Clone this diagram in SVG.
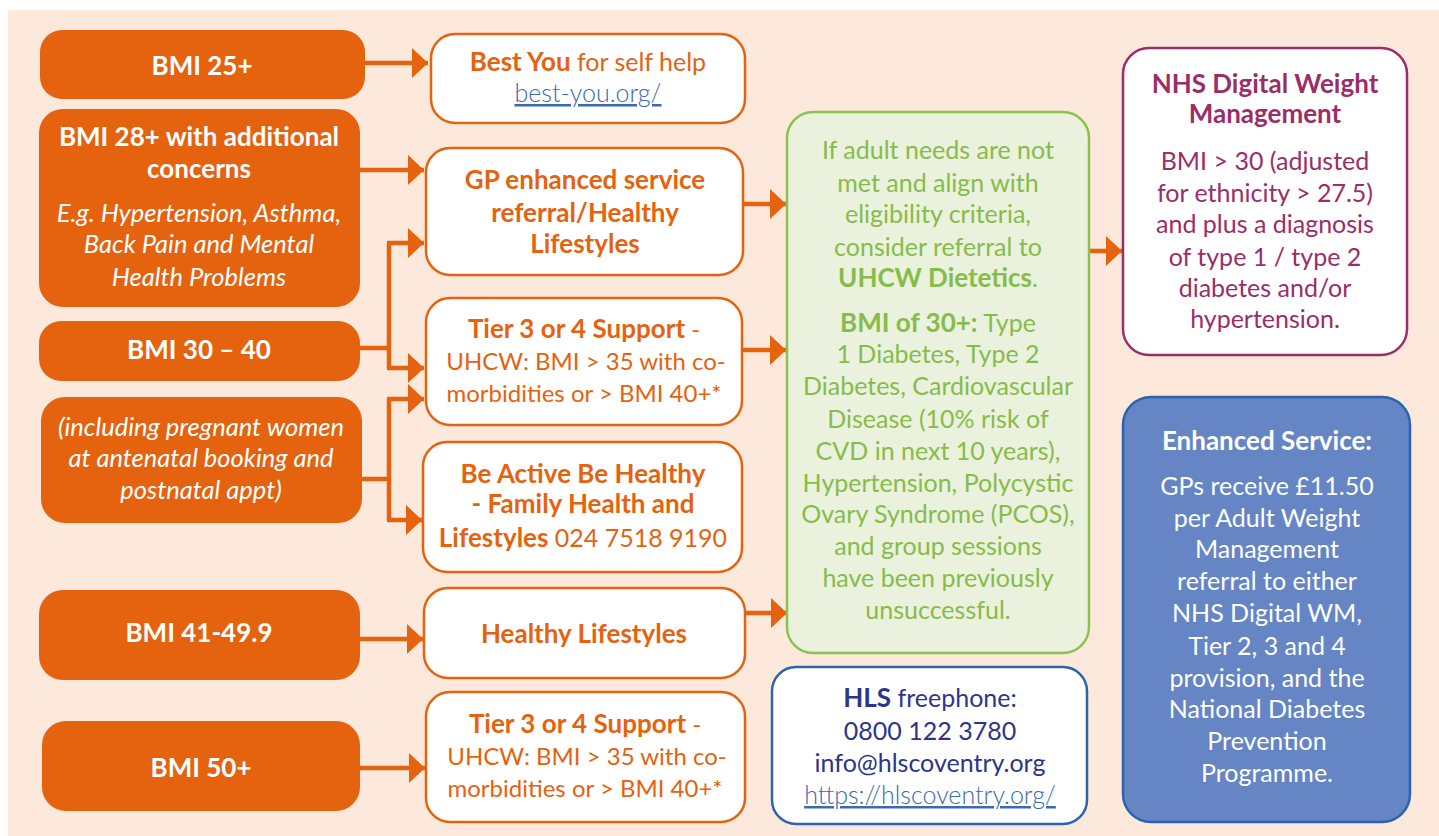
<svg xmlns="http://www.w3.org/2000/svg" width="1439" height="836" viewBox="0 0 1439 836">
<defs>
<style>
text{font-family:Lato,"Open Sans","Liberation Sans",sans-serif;text-anchor:middle;font-size:25px}
.src{fill:#E5620F}
.lbl{fill:#fff;font-weight:bold;font-size:26px}
.it{fill:#fff;font-style:italic;font-size:25.5px}
.svc{fill:#fff;stroke:#E5620F;stroke-width:2.5}
.ot{fill:#E5620F}
.sm{font-size:24px}
.b{font-weight:bold;font-size:26px}
.link{fill:#3A6AAF;text-decoration:underline;font-weight:300}
.gt{fill:#86BC4A}
.nt{fill:#9B2D68}
.ht{fill:#2C3589}
.wt{fill:#fff}
.conn{fill:none;stroke:#E5620F;stroke-width:4.5}
</style>
<marker id="ah" markerUnits="userSpaceOnUse" markerWidth="17" markerHeight="30" refX="16" refY="15" orient="auto"><path d="M0,0 L16,15 L0,30 z" fill="#E5620F"/></marker>
</defs>
<rect x="0" y="0" width="1439" height="836" fill="#fff"/>
<rect x="8" y="10" width="1431" height="826" fill="#FDE9DB"/>

<g id="connectors">
<path class="conn" d="M365,63 H428" marker-end="url(#ah)"/>
<path class="conn" d="M360,170 H424" marker-end="url(#ah)"/>
<path class="conn" d="M360,348 H389"/>
<path class="conn" d="M389,243 V368"/>
<path class="conn" d="M387,243 H424" marker-end="url(#ah)"/>
<path class="conn" d="M387,368 H424" marker-end="url(#ah)"/>
<path class="conn" d="M362,479 H389"/>
<path class="conn" d="M389,399 V520"/>
<path class="conn" d="M387,399 H424" marker-end="url(#ah)"/>
<path class="conn" d="M387,520 H422" marker-end="url(#ah)"/>
<path class="conn" d="M360,639 H423" marker-end="url(#ah)"/>
<path class="conn" d="M360,768 H425" marker-end="url(#ah)"/>
<path class="conn" d="M743,204 H786" marker-end="url(#ah)"/>
<path class="conn" d="M742,350 H786" marker-end="url(#ah)"/>
<path class="conn" d="M745,613 H787" marker-end="url(#ah)"/>
<path class="conn" d="M1089,251 H1122" marker-end="url(#ah)"/>
</g>

<g id="bmi25"><rect class="src" x="40" y="30" width="325" height="69" rx="22"/><text class="lbl" x="202" y="75">BMI 25+</text></g>
<g id="bmi28"><rect class="src" x="39" y="109" width="321" height="198" rx="24"/>
<text class="lbl" x="199" y="146">BMI 28+ with additional</text>
<text class="lbl" x="199" y="178">concerns</text>
<text class="it" x="199" y="222">E.g. Hypertension, Asthma,</text>
<text class="it" x="199" y="253">Back Pain and Mental</text>
<text class="it" x="199" y="286">Health Problems</text></g>
<g id="bmi30"><rect class="src" x="39" y="321" width="321" height="60" rx="22"/><text class="lbl" x="199" y="359">BMI 30 – 40</text></g>
<g id="pregnant"><rect class="src" x="41" y="397" width="321" height="126" rx="24"/>
<text class="it" x="201" y="436">(including pregnant women</text>
<text class="it" x="201" y="467">at antenatal booking and</text>
<text class="it" x="201" y="499">postnatal appt)</text></g>
<g id="bmi41"><rect class="src" x="39" y="590" width="321" height="90" rx="24"/><text class="lbl" x="199" y="642">BMI 41-49.9</text></g>
<g id="bmi50"><rect class="src" x="42" y="721" width="318" height="90" rx="24"/><text class="lbl" x="201" y="777">BMI 50+</text></g>

<g id="bestyou"><rect class="svc" x="431" y="34" width="314" height="89" rx="24"/>
<text class="ot" x="588" y="71"><tspan class="b">Best You</tspan> for self help</text>
<text class="link" x="588" y="102">best-you.org/</text></g>
<g id="gp"><rect class="svc" x="426" y="148" width="317" height="127" rx="24"/>
<text class="ot b" x="585" y="189">GP enhanced service</text>
<text class="ot b" x="585" y="222">referral/Healthy</text>
<text class="ot b" x="585" y="253">Lifestyles</text></g>
<g id="tier1"><rect class="svc" x="426" y="298" width="316" height="127" rx="24"/>
<text class="ot sm" x="584" y="338"><tspan class="b">Tier 3 or 4 Support</tspan> -</text>
<text class="ot sm" x="586" y="370">UHCW: BMI &gt; 35 with co-</text>
<text class="ot sm" x="584" y="402">morbidities or &gt; BMI 40+*</text></g>
<g id="beactive"><rect class="svc" x="423" y="442" width="319" height="130" rx="24"/>
<text class="ot b" x="583" y="483">Be Active Be Healthy</text>
<text class="ot b" x="583" y="513">- Family Health and</text>
<text class="ot" x="583" y="547"><tspan class="b">Lifestyles</tspan> 024 7518 9190</text></g>
<g id="healthy"><rect class="svc" x="424" y="588" width="321" height="90" rx="24"/>
<text class="ot b" x="584" y="643">Healthy Lifestyles</text></g>
<g id="tier2"><rect class="svc" x="426" y="692" width="319" height="130" rx="24"/>
<text class="ot sm" x="585" y="733"><tspan class="b">Tier 3 or 4 Support</tspan> -</text>
<text class="ot sm" x="587" y="765">UHCW: BMI &gt; 35 with co-</text>
<text class="ot sm" x="585" y="797">morbidities or &gt; BMI 40+*</text></g>

<g id="dietetics"><rect x="787" y="112" width="302" height="541" rx="26" fill="#EAF1DD" stroke="#8CC152" stroke-width="2.5"/>
<g class="gt">
<text x="938" y="159">If adult needs are not</text>
<text x="938" y="192">met and align with</text>
<text x="938" y="223">eligibility criteria,</text>
<text x="938" y="256">consider referral to</text>
<text x="938" y="287"><tspan class="b">UHCW Dietetics</tspan>.</text>
<text x="938" y="332"><tspan class="b">BMI of 30+:</tspan> Type</text>
<text x="938" y="363">1 Diabetes, Type 2</text>
<text x="938" y="395">Diabetes, Cardiovascular</text>
<text x="938" y="428">Disease (10% risk of</text>
<text x="938" y="460">CVD in next 10 years),</text>
<text x="938" y="492">Hypertension, Polycystic</text>
<text x="938" y="523">Ovary Syndrome (PCOS),</text>
<text x="938" y="555">and group sessions</text>
<text x="938" y="587">have been previously</text>
<text x="938" y="619">unsuccessful.</text>
</g></g>

<g id="hls"><rect x="772" y="667" width="315" height="157" rx="24" fill="#fff" stroke="#2C63AE" stroke-width="2.5"/>
<text class="ht" x="930" y="707"><tspan class="b">HLS</tspan> freephone:</text>
<text class="ht" x="930" y="740">0800 122 3780</text>
<text class="ht" x="930" y="772">info@hlscoventry.org</text>
<text class="link" x="930" y="804">https://hlscoventry.org/</text></g>

<g id="nhs"><rect x="1123" y="48" width="284" height="307" rx="26" fill="#fff" stroke="#9B2D68" stroke-width="2.5"/>
<g class="nt">
<text class="b" x="1265" y="93">NHS Digital Weight</text>
<text class="b" x="1265" y="123">Management</text>
<text x="1265" y="170">BMI &gt; 30 (adjusted</text>
<text x="1265" y="202">for ethnicity &gt; 27.5)</text>
<text x="1265" y="233">and plus a diagnosis</text>
<text x="1265" y="266">of type 1 / type 2</text>
<text x="1265" y="297">diabetes and/or</text>
<text x="1265" y="328">hypertension.</text>
</g></g>

<g id="enhanced"><rect x="1123" y="397" width="287" height="425" rx="28" fill="#6585C5" stroke="#2C63AE" stroke-width="2.5"/>
<g class="wt">
<text class="b" x="1267" y="450">Enhanced Service:</text>
<text x="1267" y="495">GPs receive £11.50</text>
<text x="1267" y="527">per Adult Weight</text>
<text x="1267" y="558">Management</text>
<text x="1267" y="590">referral to either</text>
<text x="1267" y="622">NHS Digital WM,</text>
<text x="1267" y="655">Tier 2, 3 and 4</text>
<text x="1267" y="687">provision, and the</text>
<text x="1267" y="718">National Diabetes</text>
<text x="1267" y="750">Prevention</text>
<text x="1267" y="782">Programme.</text>
</g></g>
</svg>
